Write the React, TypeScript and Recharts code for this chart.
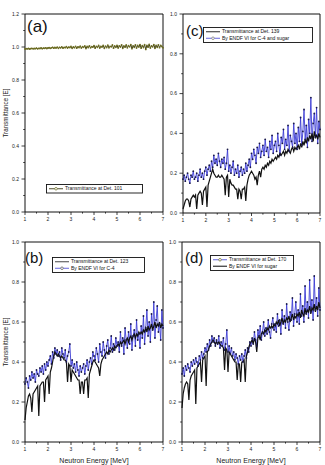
import React from "react";
import { LineChart, Line, XAxis, YAxis, ReferenceLine, Legend } from "recharts";

// neutron energy grid [MeV]
const energy = [
  1.0, 1.05, 1.1, 1.15, 1.2, 1.25, 1.3, 1.35, 1.4, 1.45, 1.5, 1.55, 1.6, 1.65, 1.7, 1.75, 1.8, 1.85, 1.9, 1.95,
  2.0, 2.05, 2.1, 2.15, 2.2, 2.25, 2.3, 2.35, 2.4, 2.45, 2.5, 2.55, 2.6, 2.65, 2.7, 2.75, 2.8, 2.85, 2.9, 2.95,
  3.0, 3.05, 3.1, 3.15, 3.2, 3.25, 3.3, 3.35, 3.4, 3.45, 3.5, 3.55, 3.6, 3.65, 3.7, 3.75, 3.8, 3.85, 3.9, 3.95,
  4.0, 4.05, 4.1, 4.15, 4.2, 4.25, 4.3, 4.35, 4.4, 4.45, 4.5, 4.55, 4.6, 4.65, 4.7, 4.75, 4.8, 4.85, 4.9, 4.95,
  5.0, 5.05, 5.1, 5.15, 5.2, 5.25, 5.3, 5.35, 5.4, 5.45, 5.5, 5.55, 5.6, 5.65, 5.7, 5.75, 5.8, 5.85, 5.9, 5.95,
  6.0, 6.05, 6.1, 6.15, 6.2, 6.25, 6.3, 6.35, 6.4, 6.45, 6.5, 6.55, 6.6, 6.65, 6.7, 6.75, 6.8, 6.85, 6.9, 6.95,
  7.0,
];

const det101 = [
  0.988, 0.99, 0.989, 0.991, 0.988, 0.99, 0.992, 0.989, 0.991, 0.99, 0.993, 0.989, 0.992, 0.991, 0.994, 0.99, 0.993, 0.992, 0.995, 0.991, 0.994,
  0.996, 0.992, 0.995, 0.998, 0.993, 0.997, 0.994, 0.999, 0.992, 0.998, 0.995, 1.001, 0.993, 0.998, 0.996, 1.002, 0.994, 0.999, 0.997, 1.003,
  0.992, 1.0, 0.996, 1.004, 0.993, 1.001, 0.997, 1.005, 0.994, 1.002, 0.998, 1.006, 0.991, 1.003, 0.997, 1.007, 0.995, 1.002, 0.999, 1.008,
  0.993, 1.004, 0.998, 1.009, 0.994, 1.003, 1.0, 1.01, 0.992, 1.005, 0.997, 1.011, 0.995, 1.004, 1.001, 1.012, 0.993, 1.006, 0.998, 1.01,
  0.994, 1.007, 1.0, 1.013, 0.992, 1.006, 0.999, 1.012, 0.995, 1.008, 1.001, 1.014, 0.99, 1.007, 0.998, 1.013, 0.994, 1.009, 1.0, 1.015,
  0.993, 1.008, 0.997, 1.014, 0.985, 1.01, 0.999, 1.016, 0.994, 1.007, 1.001, 1.015, 0.992, 1.009, 0.998, 1.013, 0.996, 1.01, 1.003, 0.995,
];

const det139 = [
  0.02, 0.04, 0.06, 0.07, 0.07, 0.06, 0.03, 0.07, 0.08, 0.09, 0.08, 0.09, 0.02, 0.09, 0.1, 0.11, 0.1, 0.04, 0.11, 0.12, 0.13,
  0.03, 0.14, 0.16, 0.18, 0.2, 0.22, 0.2, 0.19, 0.18, 0.18, 0.19, 0.18, 0.18, 0.19, 0.18, 0.17, 0.09, 0.18, 0.19, 0.08,
  0.17, 0.15, 0.14, 0.14, 0.13, 0.12, 0.12, 0.07, 0.12, 0.11, 0.07, 0.12, 0.12, 0.13, 0.06, 0.14, 0.17, 0.19, 0.2, 0.21,
  0.2, 0.19, 0.17, 0.18, 0.14, 0.19, 0.21, 0.18, 0.22, 0.23, 0.22, 0.24, 0.23, 0.25, 0.24, 0.26, 0.25, 0.27, 0.26, 0.27,
  0.28, 0.27, 0.29, 0.28, 0.3, 0.29, 0.3, 0.31, 0.29, 0.31, 0.3, 0.32, 0.31, 0.3, 0.32, 0.33, 0.31, 0.33, 0.32, 0.33,
  0.34, 0.32, 0.35, 0.33, 0.36, 0.34, 0.37, 0.35, 0.38, 0.36, 0.39, 0.37, 0.4, 0.36, 0.41, 0.38, 0.39, 0.37, 0.4, 0.38,
];

const endfC4Sugar = [
  0.17, 0.19, 0.16, 0.18, 0.2, 0.17, 0.15, 0.19, 0.18, 0.21, 0.17, 0.18, 0.2, 0.16, 0.19, 0.22, 0.18, 0.2, 0.17, 0.21, 0.23,
  0.19, 0.22, 0.24, 0.21, 0.26, 0.23, 0.29, 0.25, 0.27, 0.24, 0.3, 0.26, 0.23, 0.27, 0.25, 0.28, 0.22, 0.25, 0.32, 0.21,
  0.24, 0.2, 0.23, 0.26, 0.19, 0.22, 0.2, 0.24, 0.18, 0.21, 0.23, 0.19, 0.22, 0.2, 0.25, 0.21, 0.24, 0.27, 0.23, 0.3,
  0.27, 0.32, 0.29, 0.25, 0.33, 0.3, 0.35, 0.28, 0.31, 0.34, 0.29, 0.37, 0.31, 0.33, 0.28, 0.36, 0.32, 0.39, 0.3, 0.34,
  0.36, 0.31, 0.4, 0.34, 0.29, 0.38, 0.35, 0.42, 0.32, 0.37, 0.34, 0.44, 0.31, 0.39, 0.36, 0.33, 0.45, 0.35, 0.4, 0.32,
  0.43, 0.36, 0.48, 0.34, 0.41, 0.52, 0.37, 0.44, 0.33, 0.47, 0.4, 0.58, 0.36, 0.45, 0.5, 0.38, 0.53, 0.35, 0.46, 0.42,
];

const det123 = [
  0.11, 0.17, 0.2, 0.23, 0.24, 0.22, 0.15, 0.24, 0.25, 0.26, 0.27, 0.28, 0.13, 0.28, 0.29, 0.3, 0.3, 0.2, 0.31, 0.32, 0.33,
  0.24, 0.35, 0.37, 0.4, 0.43, 0.45, 0.44, 0.43, 0.44, 0.43, 0.42, 0.43, 0.42, 0.41, 0.41, 0.4, 0.3, 0.39, 0.38, 0.3,
  0.36, 0.35, 0.34, 0.33, 0.32, 0.31, 0.31, 0.24, 0.3, 0.3, 0.24, 0.31, 0.31, 0.32, 0.22, 0.34, 0.36, 0.38, 0.4, 0.41,
  0.4, 0.39, 0.38, 0.37, 0.33, 0.39, 0.41, 0.42, 0.43, 0.44, 0.45, 0.44, 0.46, 0.45, 0.46, 0.47, 0.46, 0.48, 0.47, 0.48,
  0.49, 0.48, 0.5, 0.49, 0.5, 0.51, 0.49, 0.51, 0.52, 0.5, 0.52, 0.53, 0.51, 0.53, 0.54, 0.52, 0.54, 0.53, 0.55, 0.54,
  0.55, 0.54, 0.56, 0.55, 0.57, 0.55, 0.58, 0.56, 0.57, 0.59, 0.56, 0.58, 0.6, 0.57, 0.59, 0.58, 0.6, 0.57, 0.59, 0.58,
];

const endfC4 = [
  0.29, 0.32, 0.3, 0.27, 0.33, 0.31, 0.35, 0.32, 0.34, 0.3, 0.36, 0.34, 0.33, 0.37, 0.35, 0.38, 0.34, 0.39, 0.36, 0.4, 0.38,
  0.41, 0.43, 0.39, 0.45, 0.42, 0.47, 0.44, 0.46, 0.43, 0.45, 0.41, 0.47, 0.44, 0.42, 0.46, 0.4, 0.43, 0.45, 0.49, 0.38,
  0.41, 0.37, 0.39, 0.35, 0.4, 0.36, 0.33, 0.38, 0.35, 0.37, 0.39, 0.34, 0.38, 0.41, 0.36, 0.4, 0.42, 0.39, 0.45, 0.43,
  0.41, 0.47, 0.44, 0.4, 0.49, 0.45, 0.43, 0.5, 0.46, 0.42, 0.48, 0.51, 0.44, 0.47, 0.53, 0.45, 0.49, 0.46, 0.52, 0.48,
  0.5, 0.45, 0.55, 0.48, 0.52, 0.44, 0.57, 0.51, 0.47, 0.55, 0.49, 0.59, 0.46, 0.53, 0.56, 0.48, 0.61, 0.51, 0.54, 0.47,
  0.58, 0.52, 0.63, 0.49, 0.57, 0.66, 0.53, 0.6, 0.5, 0.64, 0.56, 0.7, 0.52, 0.61, 0.68, 0.55, 0.59, 0.51, 0.66, 0.57,
];

const det170 = [
  0.34, 0.37, 0.33, 0.38, 0.36, 0.39, 0.37, 0.35, 0.4, 0.38, 0.41, 0.39, 0.42, 0.4, 0.38, 0.43, 0.41, 0.45, 0.42, 0.44, 0.47,
  0.45, 0.49, 0.46, 0.51, 0.48, 0.53, 0.5, 0.52, 0.48, 0.51, 0.49, 0.53, 0.47, 0.5, 0.48, 0.52, 0.46, 0.49, 0.56, 0.45,
  0.48, 0.44, 0.47, 0.43, 0.45, 0.41, 0.44, 0.42, 0.39, 0.43, 0.41, 0.44, 0.4, 0.43, 0.46, 0.42, 0.47, 0.45, 0.5, 0.48,
  0.52, 0.49, 0.55, 0.51, 0.48, 0.56, 0.53, 0.58, 0.51, 0.55, 0.6, 0.53, 0.57, 0.54, 0.61, 0.55, 0.52, 0.59, 0.62, 0.56,
  0.59, 0.55, 0.64, 0.58, 0.61, 0.54, 0.66, 0.59, 0.63, 0.57, 0.69, 0.6, 0.56, 0.65, 0.61, 0.72, 0.58, 0.64, 0.7, 0.6,
  0.66, 0.59, 0.74, 0.63, 0.68, 0.6, 0.78, 0.64, 0.7, 0.62, 0.81, 0.65, 0.71, 0.61, 0.83, 0.66, 0.72, 0.63, 0.77, 0.66,
];

const endfSugar = [
  0.17, 0.24, 0.27, 0.29, 0.3, 0.29, 0.21, 0.31, 0.33, 0.34, 0.35, 0.36, 0.19, 0.37, 0.38, 0.39, 0.4, 0.3, 0.41, 0.42, 0.43,
  0.28, 0.45, 0.46, 0.48, 0.49, 0.5, 0.51, 0.5, 0.49, 0.5, 0.49, 0.5, 0.49, 0.48, 0.48, 0.47, 0.36, 0.47, 0.46, 0.35,
  0.45, 0.44, 0.43, 0.42, 0.41, 0.4, 0.4, 0.31, 0.39, 0.39, 0.3, 0.4, 0.4, 0.41, 0.3, 0.43, 0.45, 0.47, 0.49, 0.5,
  0.51, 0.49, 0.52, 0.5, 0.45, 0.52, 0.53, 0.51, 0.54, 0.55, 0.54, 0.56, 0.55, 0.57, 0.56, 0.58, 0.57, 0.58, 0.57, 0.59,
  0.58, 0.6, 0.59, 0.61, 0.58, 0.6, 0.62, 0.59, 0.61, 0.6, 0.62, 0.61, 0.63, 0.6, 0.62, 0.64, 0.61, 0.63, 0.62, 0.64,
  0.63, 0.65, 0.62, 0.66, 0.64, 0.63, 0.67, 0.64, 0.66, 0.65, 0.68, 0.64, 0.67, 0.66, 0.69, 0.65, 0.68, 0.66, 0.7, 0.67,
];

const xTicks = [1, 1.5, 2, 2.5, 3, 3.5, 4, 4.5, 5, 5.5, 6, 6.5, 7];
const yTicks10 = [0, 0.1, 0.2, 0.3, 0.4, 0.5, 0.6, 0.7, 0.8, 0.9, 1.0];
const yTicks12 = [0, 0.1, 0.2, 0.3, 0.4, 0.5, 0.6, 0.7, 0.8, 0.9, 1.0, 1.1, 1.2];

const BLUE = "#3c3cd4";
const BLUE_DOT = "#1a1a48";
const BLACK = "#111";
const OLIVE = "#3a3a12";
const OLIVE_DOT = "#6e6e22";
const FONT = "'Liberation Sans', Arial, sans-serif";

function XTick({ x, y, payload }: any) {
  const major = Number.isInteger(payload.value);
  return (
    <g>
      <line x1={x} x2={x} y1={y} y2={y + (major ? 3 : 1.6)} stroke={BLACK} strokeWidth={0.8} />
      {major && (
        <text x={x} y={y + 8.5} textAnchor="middle" fontSize={5} fill="#222">
          {payload.value}
        </text>
      )}
    </g>
  );
}

function YTick({ x, y, payload }: any) {
  const major = Math.round(payload.value * 10) % 2 === 0;
  return (
    <g>
      <line x1={x - (major ? 3.5 : 1.8)} x2={x} y1={y} y2={y} stroke={BLACK} strokeWidth={0.8} />
      {major && (
        <text x={x - 6} y={y + 1.8} textAnchor="end" fontSize={5} fill="#222">
          {payload.value.toFixed(1)}
        </text>
      )}
    </g>
  );
}

type LegendItem = { label: string; color: string; width: number; marker?: string };

function LegendSvg({ items, w }: { items: LegendItem[]; w: number }) {
  const rowH = 6.5;
  const h = items.length * rowH + 3;
  return (
    <svg width={w} height={h} style={{ display: "block" }}>
      <rect x={0.5} y={0.5} width={w - 1} height={h - 1} fill="#fff" stroke={BLACK} strokeWidth={0.9} />
      {items.map((it, k) => {
        const cy = 1.5 + rowH / 2 + k * rowH;
        return (
          <g key={k}>
            <line x1={3} x2={17} y1={cy} y2={cy} stroke={it.color} strokeWidth={it.width} />
            {it.marker && <circle cx={10} cy={cy} r={1.3} fill="#fff" stroke={it.marker} strokeWidth={0.7} />}
            <text x={19} y={cy + 1.7} fontSize={5} fill={BLACK}>
              {it.label}
            </text>
          </g>
        );
      })}
    </svg>
  );
}

type Series = { values: number[]; color: string; width: number; dot?: string; dotR?: number };

type PanelProps = {
  left: number;
  top: number;
  height: number;
  yAxisWidth: number;
  marginTop: number;
  marginRight: number;
  xAxisHeight: number;
  yMax: number;
  yTicks: number[];
  series: Series[];
  legend: LegendItem[];
  legendBox: { x: number; y: number; w: number };
  tag: string;
  tagPos: { x: number; y: number; size: number };
  yLabel?: boolean;
  xLabel?: boolean;
};

function Panel(p: PanelProps) {
  const rows = energy.map((e, i) => {
    const r: Record<string, number> = { e };
    p.series.forEach((s, k) => {
      r["s" + k] = s.values[i];
    });
    return r;
  });

  return (
    <div style={{ position: "absolute", left: p.left, top: p.top, width: 165, height: p.height }}>
      <LineChart
        width={165}
        height={p.height}
        data={rows}
        margin={{ top: p.marginTop, right: p.marginRight, left: 0, bottom: 0 }}
      >
        <XAxis
          dataKey="e"
          type="number"
          domain={[1, 7]}
          ticks={xTicks}
          interval={0}
          tickSize={0}
          tickMargin={0}
          tickLine={false}
          tick={(t: any) => <XTick {...t} />}
          axisLine={{ stroke: BLACK, strokeWidth: 1 }}
          height={p.xAxisHeight}
          label={
            p.xLabel
              ? { value: "Neutron Energy [MeV]", position: "insideBottom", offset: 2, fontSize: 7, fill: "#222" }
              : undefined
          }
        />
        <YAxis
          type="number"
          domain={[0, p.yMax]}
          ticks={p.yTicks}
          interval={0}
          tickSize={0}
          tickMargin={0}
          tickLine={false}
          tick={(t: any) => <YTick {...t} />}
          axisLine={{ stroke: BLACK, strokeWidth: 1 }}
          width={p.yAxisWidth}
          label={
            p.yLabel
              ? {
                  content: (lp: any) => {
                    const vb = lp.viewBox;
                    const cx = vb.x + 7.5;
                    const cy = vb.y + vb.height / 2;
                    return (
                      <text
                        x={cx}
                        y={cy}
                        transform={`rotate(-90 ${cx} ${cy})`}
                        textAnchor="middle"
                        fontSize={6.3}
                        fill="#222"
                      >
                        Transmittance [E]
                      </text>
                    );
                  },
                }
              : undefined
          }
        />
        <ReferenceLine y={p.yMax} stroke={BLACK} strokeWidth={1} />
        <ReferenceLine x={7} stroke={BLACK} strokeWidth={1} />
        {p.series.map((s, k) => (
          <Line
            key={k}
            type="linear"
            dataKey={"s" + k}
            stroke={s.color}
            strokeWidth={s.width}
            dot={s.dot ? { r: s.dotR ?? 0.9, fill: s.dot, stroke: "none" } : false}
            isAnimationActive={false}
          />
        ))}
        <Legend
          content={() => <LegendSvg items={p.legend} w={p.legendBox.w} />}
          layout="vertical"
          verticalAlign="middle"
          align="center"
          wrapperStyle={{ left: p.legendBox.x, top: p.legendBox.y, width: p.legendBox.w }}
        />
      </LineChart>
      <div
        style={{
          position: "absolute",
          left: p.tagPos.x,
          top: p.tagPos.y,
          fontSize: p.tagPos.size,
          lineHeight: 1,
          color: BLACK,
        }}
      >
        {p.tag}
      </div>
    </div>
  );
}

export default function App() {
  return (
    <div
      style={{
        position: "absolute",
        left: 0,
        top: 0,
        width: 325,
        height: 465,
        background: "#fff",
        fontFamily: FONT,
      }}
    >
      <Panel
        left={0}
        top={0}
        height={230}
        yAxisWidth={25}
        marginTop={14}
        marginRight={2}
        xAxisHeight={18}
        yMax={1.2}
        yTicks={yTicks12}
        series={[{ values: det101, color: OLIVE, width: 1, dot: OLIVE_DOT, dotR: 0.9 }]}
        legend={[{ label: "Transmittance at Det. 101", color: OLIVE, width: 0.9, marker: OLIVE_DOT }]}
        legendBox={{ x: 46, y: 184, w: 97 }}
        tag="(a)"
        tagPos={{ x: 27, y: 18, size: 17 }}
        yLabel
      />
      <Panel
        left={160}
        top={0}
        height={230}
        yAxisWidth={23}
        marginTop={14}
        marginRight={5}
        xAxisHeight={17}
        yMax={1}
        yTicks={yTicks10}
        series={[
          { values: endfC4Sugar, color: BLUE, width: 0.9, dot: BLUE_DOT },
          { values: det139, color: BLACK, width: 1.2 },
        ]}
        legend={[
          { label: "Transmittance at Det. 139", color: BLACK, width: 0.9 },
          { label: "By ENDF VI for C-4 and sugar", color: BLUE, width: 0.8, marker: "#777" },
        ]}
        legendBox={{ x: 43, y: 27, w: 110 }}
        tag="(c)"
        tagPos={{ x: 26, y: 23, size: 15 }}
      />
      <Panel
        left={0}
        top={230}
        height={235}
        yAxisWidth={25}
        marginTop={12}
        marginRight={2}
        xAxisHeight={23}
        yMax={1}
        yTicks={yTicks10}
        series={[
          { values: endfC4, color: BLUE, width: 0.9, dot: BLUE_DOT },
          { values: det123, color: BLACK, width: 1.2 },
        ]}
        legend={[
          { label: "Transmittance at Det. 123", color: "#333", width: 0.9 },
          { label: "By ENDF VI for C-4", color: BLUE, width: 0.8, marker: "#555" },
        ]}
        legendBox={{ x: 52, y: 27, w: 93 }}
        tag="(b)"
        tagPos={{ x: 25, y: 20, size: 15 }}
        yLabel
        xLabel
      />
      <Panel
        left={160}
        top={230}
        height={235}
        yAxisWidth={22}
        marginTop={12}
        marginRight={5}
        xAxisHeight={23}
        yMax={1}
        yTicks={yTicks10}
        series={[
          { values: det170, color: BLUE, width: 0.9, dot: BLUE_DOT },
          { values: endfSugar, color: BLACK, width: 1.2 },
        ]}
        legend={[
          { label: "Transmittance at Det. 170", color: BLUE, width: 0.8, marker: OLIVE_DOT },
          { label: "By ENDF VI for sugar", color: "#333", width: 1.2 },
        ]}
        legendBox={{ x: 50, y: 25, w: 84 }}
        tag="(d)"
        tagPos={{ x: 25, y: 20, size: 15 }}
        xLabel
      />
    </div>
  );
}
